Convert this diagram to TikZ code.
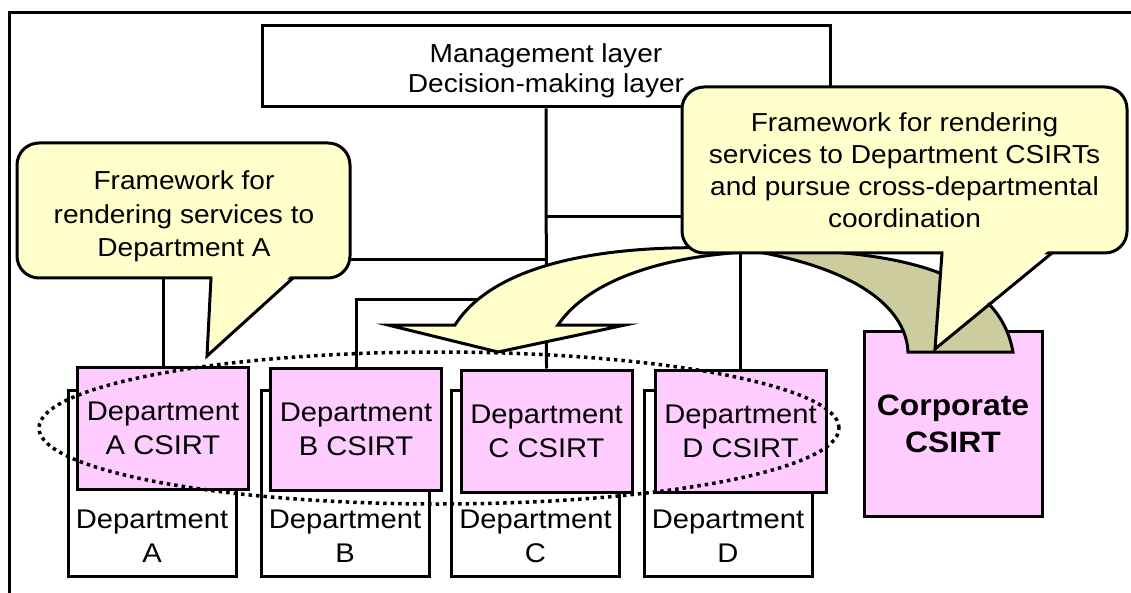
\documentclass[tikz,border=0pt]{standalone}
\usepackage{fontspec}
\setmainfont[FakeStretch=1.08]{Liberation Sans}
\definecolor{notepaper}{HTML}{FFFFCC}
\definecolor{csirtpink}{HTML}{FFCCFF}
\definecolor{ribbonback}{RGB}{204,204,158}

\begin{document}
\begin{tikzpicture}[x=1pt, y=-1pt,
  every node/.style={inner sep=0pt, align=center},
  wire/.style={line width=3pt},
  outlined/.style={draw, line width=3pt},
  mgmtbox/.style={outlined, fill=white, minimum width=568pt, minimum height=81pt},
  deptbox/.style={outlined, fill=white, minimum width=168pt, minimum height=186pt},
  csirtbox/.style={outlined, fill=csirtpink, minimum width=171pt, minimum height=122pt,
    font=\fontsize{27}{34}\selectfont},
  corpbox/.style={outlined, fill=csirtpink, minimum width=178pt, minimum height=185pt,
    font=\bfseries\fontsize{29.5}{37}\selectfont},
  lbl/.style={font=\fontsize{26}{33}\selectfont},
  deptlbl/.style={font=\fontsize{27}{34}\selectfont},
  bubble/.style={outlined, fill=notepaper, rounded corners=22pt},
  tailedge/.style={line width=3pt, line join=miter},
  ring/.style={line width=3.5pt, dash pattern=on 3.5pt off 4pt},
  ribbon/.style={draw, line width=3pt, fill=ribbonback},
  swoop/.style={draw, line width=3pt, fill=notepaper, line join=miter},
]
\path[use as bounding box] (0,0) rectangle (1131,593);

% outer frame (left and top edges)
\draw[wire] (9,593) -- (9,13) -- (1131,13);

% management layer
\node[mgmtbox] (mgmt) at (546,66.5) {};
\node[lbl, font=\fontsize{26}{30.5}\selectfont] (mgmtText) at (546,70.7)
  {Management layer\\Decision-making layer};

% departments
\node[deptbox] (dA) at (152,483) {};
\node[deptbox] (dB) at (345,483) {};
\node[deptbox] (dC) at (535.5,483) {};
\node[deptbox] (dD) at (728,483) {};
\node[deptlbl] (dAt) at (152,536.4) {Department\\A};
\node[deptlbl] (dBt) at (345,536.4) {Department\\B};
\node[deptlbl] (dCt) at (535.5,536.4) {Department\\C};
\node[deptlbl] (dDt) at (728,536.4) {Department\\D};

% department CSIRTs
\node[csirtbox] (cA) at (163,428) {Department\\A CSIRT};
\node[csirtbox] (cB) at (356,429.5) {Department\\B CSIRT};
\node[csirtbox] (cC) at (546.5,431) {Department\\C CSIRT};
\node[csirtbox] (cD) at (740.5,431) {Department\\D CSIRT};

% corporate CSIRT
\node[corpbox] (corp) at (953,423.5) {Corporate\\CSIRT};

% reporting lines
\coordinate (jA) at (546,260);
\coordinate (jB) at (546,299);
\coordinate (jD) at (546,217);
\draw[wire] (mgmt.south) -- (cC.north);
\draw[wire] (cA.north) |- (jA);
\draw[wire] (cB.north) |- (jB);
\draw[wire] (cD.north) |- (jD);

% grouping of the department CSIRTs
\draw[ring] (439,428) ellipse [x radius=400pt, y radius=76pt];

% curved service arrow: back face rising out of the corporate CSIRT
\path[ribbon] (740,249) .. controls (850,265) and (906,305) .. (908,352)
  -- (1013,352) .. controls (1000,280) and (920,255) .. (800,250) -- cycle;
% front face with the arrowhead over the department CSIRTs
\path[swoop] (745,249) .. controls (610,242) and (495,262) .. (455,325)
  -- (388,325) -- (498,352) -- (625,325) -- (558,325)
  .. controls (585,285) and (650,258) .. (745,252) -- cycle;

% callout for department A
\node[bubble, minimum width=333pt, minimum height=135pt] (noteA) at (183.5,210.5) {};
\fill[notepaper] (212.5,275) -- (207,356) -- (291.5,275) -- cycle;
\draw[tailedge] (211,278) -- (207,356) -- (293,278);
\node[lbl, font=\fontsize{26}{33.5}\selectfont] (noteAText) at (184,216.3)
  {Framework for\\rendering services to\\Department A};

% callout for the corporate CSIRT
\node[bubble, minimum width=445pt, minimum height=166pt] (noteCorp) at (904.5,170) {};
\fill[notepaper] (943.5,250) -- (935,349) -- (1049,250) -- cycle;
\draw[tailedge] (942,253) -- (935,349) -- (1052,253);
\node[lbl, font=\fontsize{26}{32}\selectfont] (noteCorpText) at (904.5,170.7)
  {Framework for rendering\\services to Department CSIRTs\\and pursue cross-departmental\\coordination};
\end{tikzpicture}
\end{document}
